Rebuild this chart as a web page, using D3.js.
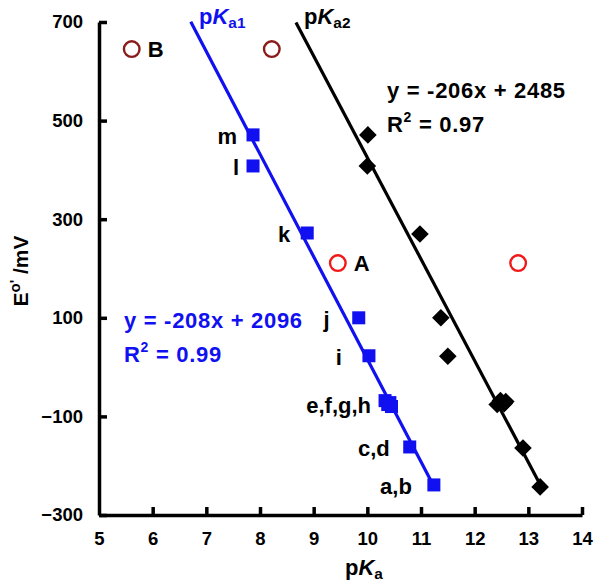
<!DOCTYPE html>
<meta charset="utf-8">
<style>
body { margin: 0; background: #fff; }
text { font-family: "Liberation Sans", Arial, sans-serif; font-weight: bold; }
.axis path, .axis line { stroke: #000; stroke-width: 3.5px; }
.axis text { font-size: 18px; fill: #000; }
</style>
<body></body>
<script src="https://cdn.jsdelivr.net/npm/d3@7"></script>
<script>

// pKa1 series (blue squares)
var pka1X = [7.87, 7.87, 8.88, 9.84, 10.03, 10.33, 10.38, 10.42, 10.45, 10.79, 11.24];
var pka1Y = [471, 408, 272, 100, 23, -68, -76, -72, -80, -162, -239];
// pKa2 series (black diamonds)
var pka2X = [10.01, 10.0, 10.98, 11.37, 11.50, 12.42, 12.48, 12.55, 12.58, 12.9, 13.22];
var pka2Y = [471, 408, 270, 100, 22, -76, -68, -74, -70, -164, -243];

// point labels (pKa1 points)
var labelText = ["m", "l", "k", "j", "i", "e,f,g,h", "c,d", "a,b"];
var labelX = [7.87, 7.87, 8.88, 9.84, 10.03, 10.33, 10.79, 11.24];
var labelY = [471, 408, 272, 100, 23, -74, -162, -239];

// open circles
var openX = [5.61, 8.22, 9.45, 12.81];
var openY = [645, 645, 211, 211];
var openKind = ["B", "B2", "A", "A2"];

// regression lines
var fit1 = {slope: -208, intercept: 2096, from: 6.71, to: 11.2};
var fit2 = {slope: -206, intercept: 2485, from: 8.67, to: 13.2};

var xTicks = [5, 6, 7, 8, 9, 10, 11, 12, 13, 14];
var yTicks = [-300, -100, 100, 300, 500, 700];

var W = 600, H = 583;
var blue = "#1010f0", darkRed = "#8b1a1a", red = "#f01818";

var svg = d3.select("body").append("svg").attr("width", W).attr("height", H);

var x = d3.scaleLinear().domain([5, 14]).range([99, 582]);
var y = d3.scaleLinear().domain([-300, 700]).range([515, 22]);

// axes (ticks point inward)
svg.append("g").attr("class", "axis")
    .attr("transform", "translate(0," + y(-300) + ")")
    .call(d3.axisBottom(x).tickValues(xTicks).tickSize(-8).tickSizeOuter(0).tickPadding(17).tickFormat(d3.format("d")))
    .call(function(g) { g.selectAll(".tick").filter(function(d) { return d == 5; }).select("line").remove(); });

svg.append("g").attr("class", "axis")
    .attr("transform", "translate(" + x(5) + ",0)")
    .call(d3.axisLeft(y).tickValues(yTicks).tickSize(-8).tickSizeOuter(0).tickPadding(16).tickFormat(d3.format("d")));

svg.selectAll(".axis text").style("font-size", "18.5px");

// regression lines
[[fit1, blue], [fit2, "#000"]].forEach(function(f) {
    var ft = f[0];
    svg.append("line")
        .attr("x1", x(ft.from)).attr("y1", y(ft.slope * ft.from + ft.intercept))
        .attr("x2", x(ft.to)).attr("y2", y(ft.slope * ft.to + ft.intercept))
        .attr("stroke", f[1]).attr("stroke-width", 3.2);
});

// blue squares
svg.selectAll(".sq").data(pka1X).enter().append("rect")
    .attr("x", function(d) { return x(d) - 6.5; })
    .attr("y", function(d, i) { return y(pka1Y[i]) - 6.5; })
    .attr("width", 13).attr("height", 13)
    .attr("fill", blue);

// black diamonds
svg.selectAll(".dia").data(pka2X).enter().append("path")
    .attr("d", d3.symbol().type(d3.symbolSquare).size(155))
    .attr("transform", function(d, i) { return "translate(" + x(d) + "," + y(pka2Y[i]) + ") rotate(45)"; })
    .attr("fill", "#000");

// open circles
svg.selectAll(".oc").data(openX).enter().append("circle")
    .attr("cx", function(d) { return x(d); })
    .attr("cy", function(d, i) { return y(openY[i]); })
    .attr("r", 7.8)
    .attr("fill", "none")
    .attr("stroke-width", 2.4)
    .attr("stroke", function(d, i) { return openKind[i].charAt(0) == "B" ? darkRed : red; });

svg.selectAll(".ocl").data(["B", "A"]).enter().append("text")
    .attr("x", function(d) { return x(openX[openKind.indexOf(d)]) + 16; })
    .attr("y", function(d) { return y(openY[openKind.indexOf(d)]) + 8; })
    .style("font-size", "22px")
    .text(function(d) { return d; });

// point labels, right aligned to the left of the squares
var labelGap = {"m": 16, "l": 14, "k": 17, "j": 29, "i": 27, "e,f,g,h": 14, "c,d": 20, "a,b": 22};
svg.selectAll(".pl").data(labelText).enter().append("text")
    .attr("x", function(d, i) { return x(labelX[i]) - labelGap[d]; })
    .attr("y", function(d, i) { return y(labelY[i]) + 9; })
    .attr("text-anchor", "end")
    .style("font-size", "22px")
    .text(function(d) { return d; });

// pKa series titles
function pkTitle(px, py, sub, col, size) {
    var t = svg.append("text").attr("x", px).attr("y", py).attr("fill", col).style("font-size", size + "px");
    t.append("tspan").text("p");
    t.append("tspan").style("font-style", "italic").text("K");
    t.append("tspan").attr("dy", 4).style("font-size", (size * 0.7) + "px").text(sub);
    return t;
}
pkTitle(199, 24, "a1", blue, 22);
pkTitle(304, 24, "a2", "#000", 22);
pkTitle(345, 575, "a", "#000", 22);

// equations
function eq(px, py, line1, r2, col) {
    svg.append("text").attr("x", px).attr("y", py).attr("fill", col)
        .style("font-size", "22px").style("letter-spacing", "0.7px").text(line1);
    var t = svg.append("text").attr("x", px).attr("y", py + 34).attr("fill", col)
        .style("font-size", "22px").style("letter-spacing", "0.7px");
    t.append("tspan").text("R");
    t.append("tspan").attr("dy", -10).style("font-size", "14px").text("2");
    t.append("tspan").attr("dy", 10).text(" = " + r2);
}
eq(387, 98, "y = -206x + 2485", "0.97", "#000");
eq(124, 328, "y = -208x + 2096", "0.99", blue);

// y axis title
var yt = svg.append("text")
    .attr("transform", "translate(28,271) rotate(-90)")
    .attr("text-anchor", "middle")
    .style("font-size", "21px");
yt.append("tspan").text("E");
yt.append("tspan").attr("dy", -8).style("font-size", "15px").text("o'");
yt.append("tspan").attr("dy", 8).text(" /mV");

</script>
